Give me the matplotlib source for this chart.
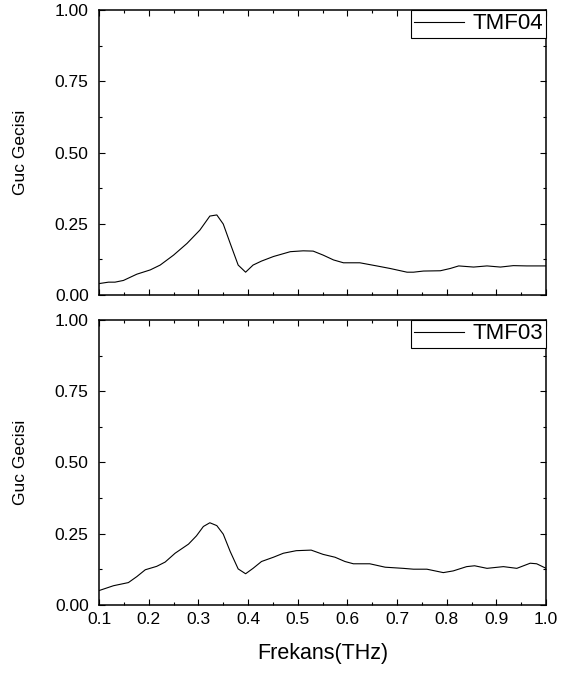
import matplotlib
matplotlib.use("Agg")
import matplotlib.pyplot as plt
from matplotlib.ticker import MultipleLocator, FormatStrFormatter

plt.rcParams["font.family"] = ["Liberation Sans", "DejaVu Sans"]

# ── data ─────────────────────────────────────────────────────────────────────
freq_tmf04 = [0.100, 0.119, 0.132, 0.149, 0.176, 0.203, 0.223, 0.250, 0.277,
              0.303, 0.323, 0.337, 0.350, 0.364, 0.380, 0.395, 0.410, 0.427,
              0.451, 0.485, 0.511, 0.531, 0.551, 0.572, 0.592, 0.625, 0.659,
              0.686, 0.720, 0.733, 0.753, 0.787, 0.807, 0.824, 0.854, 0.881,
              0.908, 0.934, 0.961, 1.000]
trans_tmf04 = [0.040, 0.045, 0.045, 0.051, 0.073, 0.088, 0.105, 0.140, 0.181,
               0.228, 0.277, 0.281, 0.249, 0.181, 0.105, 0.080, 0.105, 0.119,
               0.135, 0.152, 0.155, 0.154, 0.140, 0.123, 0.113, 0.113, 0.102,
               0.093, 0.080, 0.080, 0.084, 0.085, 0.093, 0.102, 0.098, 0.102,
               0.098, 0.103, 0.102, 0.102]

freq_tmf03 = [0.100, 0.129, 0.159, 0.176, 0.193, 0.216, 0.233, 0.253, 0.280,
              0.296, 0.310, 0.323, 0.337, 0.350, 0.364, 0.380, 0.395, 0.410,
              0.427, 0.451, 0.471, 0.497, 0.527, 0.551, 0.575, 0.595, 0.612,
              0.645, 0.676, 0.712, 0.733, 0.760, 0.793, 0.813, 0.840, 0.856,
              0.881, 0.914, 0.941, 0.968, 0.981, 1.000]
trans_tmf03 = [0.050, 0.067, 0.078, 0.099, 0.123, 0.135, 0.150, 0.181, 0.213,
               0.242, 0.275, 0.288, 0.278, 0.248, 0.187, 0.126, 0.109, 0.128,
               0.152, 0.167, 0.181, 0.190, 0.192, 0.177, 0.167, 0.152, 0.144,
               0.144, 0.132, 0.128, 0.125, 0.125, 0.113, 0.119, 0.134, 0.137,
               0.128, 0.134, 0.128, 0.146, 0.144, 0.128]

panels = [("TMF04", freq_tmf04, trans_tmf04), ("TMF03", freq_tmf03, trans_tmf03)]

fig = plt.figure(figsize=(5.63, 6.75), dpi=100)
ax_top = fig.add_axes([0.176, 0.563, 0.794, 0.422])
ax_bot = fig.add_axes([0.176, 0.104, 0.794, 0.422])

for ax, (name, fx, fy) in zip([ax_top, ax_bot], panels):
    ax.plot(fx, fy, color="black", lw=0.8, label=name)
    ax.set_xlim(0.1, 1.0)
    ax.set_ylim(0.0, 1.0)
    ax.xaxis.set_major_locator(MultipleLocator(0.1))
    ax.xaxis.set_minor_locator(MultipleLocator(0.05))
    ax.yaxis.set_major_locator(MultipleLocator(0.25))
    ax.yaxis.set_minor_locator(MultipleLocator(0.125))
    ax.xaxis.set_major_formatter(FormatStrFormatter("%.1f"))
    ax.yaxis.set_major_formatter(FormatStrFormatter("%.2f"))
    ax.tick_params(which="both", direction="in", top=True, right=True,
                   width=0.8, labelsize=12.5)
    ax.tick_params(which="major", length=4.5)
    ax.tick_params(which="minor", length=2.5)
    ax.tick_params(axis="y", pad=7.5)
    ax.tick_params(axis="x", pad=5.5)
    for sp in ax.spines.values():
        sp.set_linewidth(1.1)
    ax.set_ylabel("Guc Gecisi", fontsize=12.5)
    ax.yaxis.set_label_coords(-0.16, 0.5)
    leg = ax.legend(loc="upper right", borderaxespad=0, fancybox=False,
                    edgecolor="black", framealpha=1, fontsize=16,
                    handlelength=2.25, borderpad=0.15, handletextpad=0.35)
    leg.get_frame().set_linewidth(0.8)

ax_top.tick_params(axis="x", labelbottom=False)
ax_bot.set_xlabel("Frekans(THz)", fontsize=15.5)
ax_bot.xaxis.set_label_coords(0.5, -0.135)

fig.savefig("out.png", dpi=100)
